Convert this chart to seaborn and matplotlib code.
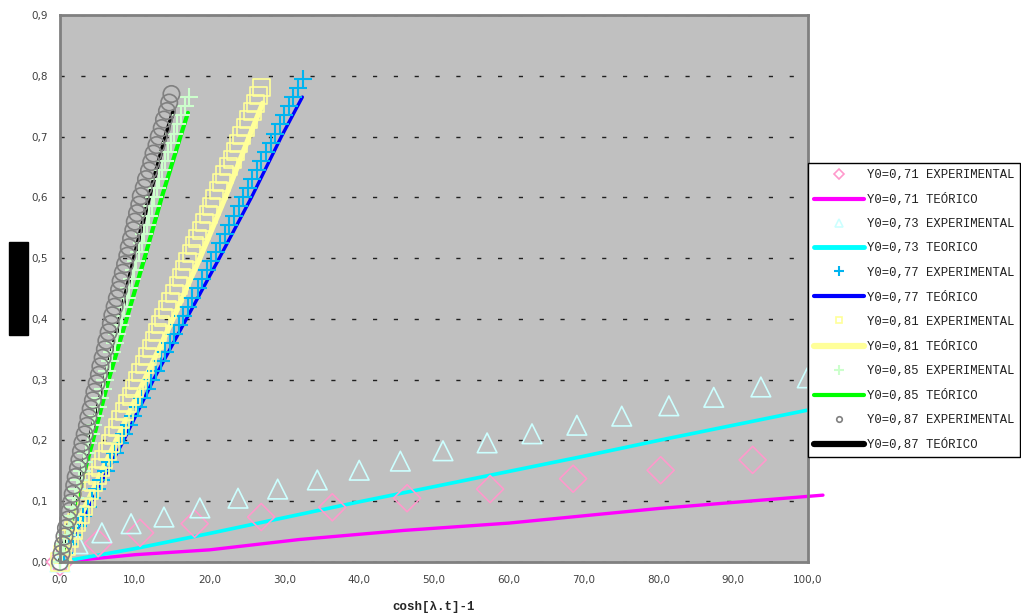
import numpy as np
import pandas as pd
import seaborn as sns
import matplotlib.pyplot as plt
from matplotlib.lines import Line2D
from matplotlib.patches import Rectangle
from matplotlib.ticker import FuncFormatter, MultipleLocator

sns.set_style("white")
plt.rcParams['font.family'] = ['DejaVu Sans']

# ---------------- data ----------------
# Y0 = 0,71
x71_exp = [0, 5.1, 10.7, 18.0, 26.9, 36.4, 46.4, 57.5, 68.6, 80.3, 92.6]
y71_exp = [0, 0.031, 0.048, 0.063, 0.074, 0.090, 0.105, 0.120, 0.137, 0.151, 0.168]
x71_teo = [0, 10, 20, 32, 46, 60, 80, 100, 102]
y71_teo = [0, 0.012, 0.020, 0.037, 0.052, 0.064, 0.088, 0.108, 0.110]

# Y0 = 0,73
x73_exp = [0, 2.4, 5.6, 9.5, 13.9, 18.7, 23.8, 29.1, 34.4, 40.0, 45.5, 51.2, 57.1,
           63.1, 69.1, 75.1, 81.4, 87.4, 93.7, 99.9]
y73_exp = [0, 0.030, 0.048, 0.063, 0.074, 0.089, 0.105, 0.120, 0.135, 0.151, 0.166,
           0.183, 0.196, 0.211, 0.225, 0.240, 0.257, 0.271, 0.288, 0.303]
x73_teo = [0, 10, 20, 30, 40, 50, 60, 70, 80, 90, 100]
y73_teo = [0, 0.022, 0.047, 0.073, 0.099, 0.124, 0.149, 0.174, 0.200, 0.225, 0.250]

# Y0 = 0,77
x77_exp = [0, 0.6, 1.2, 1.8, 2.4, 3.1, 3.7, 4.3, 4.9, 5.5, 6.1, 6.7, 7.3, 8.0, 8.6,
           9.2, 9.8, 10.4, 11.0, 11.6, 12.2, 12.9, 13.5, 14.1, 14.7, 15.3, 15.9,
           16.5, 17.1, 17.7, 18.4, 19.0, 19.6, 20.2, 20.8, 21.4, 22.0, 22.6, 23.3,
           23.9, 24.5, 25.1, 25.7, 26.3, 26.9, 27.5, 28.2, 28.8, 29.4, 30.0, 30.6,
           31.2, 31.8, 32.5]
y77_exp = [0, .015, .03, .045, .06, .075, .09, .105, .12, .135, .15, .165, .18, .195,
           .21, .225, .24, .255, .27, .285, .30, .315, .33, .345, .36, .375, .39,
           .405, .42, .435, .45, .465, .48, .495, .51, .525, .54, .555, .57, .585,
           .60, .615, .63, .645, .66, .675, .69, .705, .72, .735, .75, .765, .78, .795]
x77_teo = [0, 4.2, 8.5, 12.5, 16.9, 21.3, 25.6, 29.6, 32.4]
y77_teo = [0, 0.1, 0.2, 0.3, 0.4, 0.5, 0.6, 0.7, 0.765]

# Y0 = 0,81
x81_exp = [0, 0.4, 0.9, 1.3, 1.8, 2.2, 2.7, 3.1, 3.6, 4.0, 4.5, 5.0, 5.4, 5.8, 6.3,
           6.7, 7.2, 7.7, 8.1, 8.6, 9.0, 9.5, 9.9, 10.3, 10.8, 11.3, 11.7, 12.2,
           12.6, 13.1, 13.5, 13.9, 14.4, 14.8, 15.3, 15.8, 16.2, 16.7, 17.1, 17.6,
           18.0, 18.4, 18.9, 19.3, 19.8, 20.3, 20.7, 21.2, 21.6, 22.0, 22.5, 23.0,
           23.4, 23.9, 24.3, 24.8, 25.2, 25.7, 26.1, 26.6, 27.0]
y81_exp = [0, .013, .026, .039, .052, .065, .078, .091, .104, .117, .130, .143, .156,
           .169, .182, .195, .208, .221, .234, .247, .260, .273, .286, .299, .312,
           .325, .338, .351, .364, .377, .390, .403, .416, .429, .442, .455, .468,
           .481, .494, .507, .520, .533, .546, .559, .572, .585, .598, .611, .624,
           .637, .650, .663, .676, .689, .702, .715, .728, .741, .754, .767, .780]
x81_teo = [0, 3.7, 7.5, 11.3, 15.1, 18.7, 22.1, 25.3, 27.1]
y81_teo = [0, 0.1, 0.2, 0.3, 0.4, 0.5, 0.6, 0.7, 0.755]

# Y0 = 0,85
x85_exp = [0, 0.3, 0.6, 0.9, 1.2, 1.5, 1.8, 2.0, 2.3, 2.6, 2.9, 3.2, 3.5, 3.8, 4.1,
           4.4, 4.7, 5.1, 5.4, 5.7, 6.0, 6.3, 6.7, 7.0, 7.3, 7.6, 8.0, 8.3, 8.6,
           8.9, 9.2, 9.6, 9.9, 10.2, 10.5, 10.9, 11.2, 11.6, 11.9, 12.3, 12.6,
           13.0, 13.3, 13.7, 14.1, 14.5, 14.9, 15.3, 15.7, 16.2, 16.7, 17.2]
y85_exp = [0, .015, .03, .045, .06, .075, .09, .105, .12, .135, .15, .165, .18, .195,
           .21, .225, .24, .255, .27, .285, .30, .315, .33, .345, .36, .375, .39,
           .405, .42, .435, .45, .465, .48, .495, .51, .525, .54, .555, .57, .585,
           .60, .615, .63, .645, .66, .675, .69, .705, .72, .735, .75, .765]
x85_teo = [0, 2.2, 4.4, 6.5, 8.9, 11.3, 13.6, 16.1, 17.1]
y85_teo = [0, 0.1, 0.2, 0.3, 0.4, 0.5, 0.6, 0.7, 0.739]

# Y0 = 0,87
x87_exp = [0, 0.2, 0.4, 0.6, 0.8, 1.1, 1.3, 1.5, 1.7, 1.9, 2.1, 2.4, 2.6, 2.8, 3.0,
           3.3, 3.6, 3.8, 4.1, 4.4, 4.6, 4.9, 5.2, 5.4, 5.7, 6.0, 6.2, 6.5, 6.8,
           7.0, 7.3, 7.6, 7.9, 8.1, 8.4, 8.7, 9.0, 9.2, 9.5, 9.8, 10.0, 10.3, 10.6,
           10.8, 11.2, 11.5, 11.9, 12.2, 12.5, 12.9, 13.2, 13.6, 13.9, 14.3, 14.6, 14.9]
y87_exp = [0, .014, .028, .042, .056, .070, .084, .098, .112, .126, .140, .154, .168,
           .182, .196, .210, .224, .238, .252, .266, .280, .294, .308, .322, .336,
           .350, .364, .378, .392, .406, .420, .434, .448, .462, .476, .490, .504,
           .518, .532, .546, .560, .574, .588, .602, .616, .630, .644, .658, .672,
           .686, .700, .714, .728, .742, .756, .770]
x87_teo = [0, 1.9, 3.9, 6.0, 8.0, 9.9, 11.9, 14.1, 15.1]
y87_teo = [0, 0.1, 0.2, 0.3, 0.4, 0.5, 0.6, 0.7, 0.74]

labels = ['Y0=0,71 EXPERIMENTAL', 'Y0=0,71 TEÓRICO',
          'Y0=0,73 EXPERIMENTAL', 'Y0=0,73 TEORICO',
          'Y0=0,77 EXPERIMENTAL', 'Y0=0,77 TEÓRICO',
          'Y0=0,81 EXPERIMENTAL', 'Y0=0,81 TEÓRICO',
          'Y0=0,85 EXPERIMENTAL', 'Y0=0,85 TEÓRICO',
          'Y0=0,87 EXPERIMENTAL', 'Y0=0,87 TEÓRICO']

# ---------------- figure ----------------
fig = plt.figure(figsize=(10.21, 6.15), dpi=100)
ax = fig.add_axes([60/1021, 53/615, 748/1021, 547/615])
ax.set_facecolor('#C0C0C0')

# theoretical curves (under the markers)
teo = [(x71_teo, y71_teo, '#FF00FF', 2.4),
       (x73_teo, y73_teo, '#00FFFF', 2.6),
       (x77_teo, y77_teo, '#0000FF', 2.4),
       (x81_teo, y81_teo, '#FFFF99', 3.8),
       (x85_teo, y85_teo, '#00FF00', 3.0),
       (x87_teo, y87_teo, '#000000', 3.0)]
for xs, ys, c, lw in teo:
    sns.lineplot(x=xs, y=ys, ax=ax, color=c, linewidth=lw, estimator=None,
                 sort=False, legend=False, clip_on=False, zorder=2)

# experimental points
sns.scatterplot(x=x71_exp, y=y71_exp, ax=ax, marker='D', s=190, facecolors='none',
                edgecolor='#FF99CC', linewidth=1.2, clip_on=False, zorder=3, legend=False)
sns.scatterplot(x=x73_exp, y=y73_exp, ax=ax, marker='^', s=200, facecolors='none',
                edgecolor='#CCFFFF', linewidth=1.2, clip_on=False, zorder=3, legend=False)
sns.scatterplot(x=x77_exp, y=y77_exp, ax=ax, marker='+', s=170, color='#00B4F0',
                linewidth=1.5, clip_on=False, zorder=3, legend=False)
sns.scatterplot(x=x81_exp, y=y81_exp, ax=ax, marker='s', s=150, facecolors='none',
                edgecolor='#FFFF99', linewidth=1.2, clip_on=False, zorder=3, legend=False)
sns.scatterplot(x=x85_exp, y=y85_exp, ax=ax, marker='+', s=170, color='#CCFFCC',
                linewidth=1.5, clip_on=False, zorder=3, legend=False)
sns.scatterplot(x=x87_exp, y=y87_exp, ax=ax, marker='o', s=140, facecolors='none',
                edgecolor='#808080', linewidth=1.2, clip_on=False, zorder=3, legend=False)

ax.set_xlim(0, 100)
ax.set_ylim(0, 0.9)
ax.xaxis.set_major_locator(MultipleLocator(10))
ax.yaxis.set_major_locator(MultipleLocator(0.1))
ax.xaxis.set_major_formatter(FuncFormatter(lambda v, p: f"{v:.1f}".replace('.', ',')))
ax.yaxis.set_major_formatter(FuncFormatter(lambda v, p: f"{v:.1f}".replace('.', ',')))
ax.tick_params(labelsize=7.5, colors='#404040', length=0, pad=9)
ax.grid(axis='y', color='#202020', linestyle=(0, (3, 12)), linewidth=1)
ax.set_axisbelow(True)
for sp in ax.spines.values():
    sp.set_color('#808080')
    sp.set_linewidth(2)
    sp.set_zorder(4)

ax.set_xlabel('cosh[λ.t]-1', fontweight='bold', fontsize=9,
              family=['Liberation Mono', 'DejaVu Sans Mono'], labelpad=12)
ax.set_ylabel('')

# black box in place of the y label
fig.add_artist(Rectangle((9/1021, 1 - 335/615), 19/1021, 93/615,
                         transform=fig.transFigure, color='black'))

# legend
handles = [
    Line2D([], [], linestyle='none', marker='D', markersize=5, markerfacecolor='none',
           markeredgecolor='#FF99CC', markeredgewidth=1.2),
    Line2D([], [], color='#FF00FF', lw=3),
    Line2D([], [], linestyle='none', marker='^', markersize=6, markerfacecolor='none',
           markeredgecolor='#CCFFFF', markeredgewidth=1.2),
    Line2D([], [], color='#00FFFF', lw=3.5),
    Line2D([], [], linestyle='none', marker='+', markersize=7, color='#00B4F0',
           markeredgewidth=1.5),
    Line2D([], [], color='#0000FF', lw=3),
    Line2D([], [], linestyle='none', marker='s', markersize=5, markerfacecolor='none',
           markeredgecolor='#FFFF99', markeredgewidth=1.2),
    Line2D([], [], color='#FFFF99', lw=4.5),
    Line2D([], [], linestyle='none', marker='+', markersize=7, color='#CCFFCC',
           markeredgewidth=1.5),
    Line2D([], [], color='#00FF00', lw=3),
    Line2D([], [], linestyle='none', marker='o', markersize=4, markerfacecolor='none',
           markeredgecolor='#808080', markeredgewidth=1.2),
    Line2D([], [], color='#000000', lw=4.5),
]
leg = fig.legend(handles, labels, loc='upper left',
                 bbox_to_anchor=(808/1021, 1 - 163/615), bbox_transform=fig.transFigure,
                 frameon=True, fancybox=False, edgecolor='black', framealpha=1,
                 borderaxespad=0, handlelength=4.1, handletextpad=0.2,
                 labelspacing=0.99, borderpad=0.5,
                 prop=dict(family=['Liberation Mono', 'DejaVu Sans Mono'], size=8.8))
leg.get_frame().set_linewidth(1.0)
for t in leg.get_texts():
    t.set_color('#202020')

fig.savefig('out.png', dpi=100)
